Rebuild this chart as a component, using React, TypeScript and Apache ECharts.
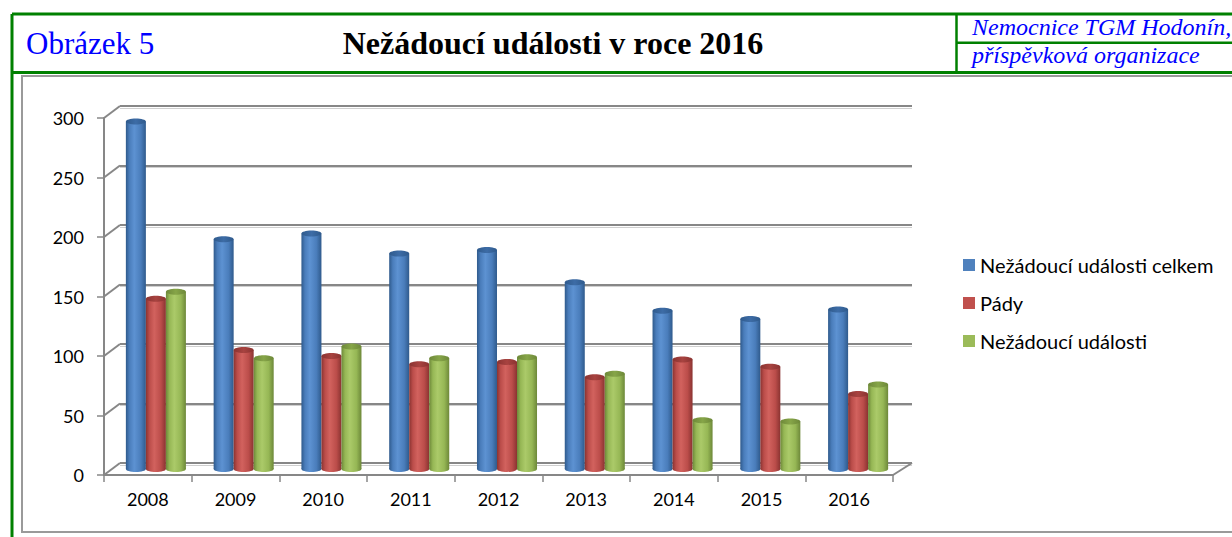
import React, { useEffect, useRef } from "react";
import * as echarts from "echarts";

const years = ["2008", "2009", "2010", "2011", "2012", "2013", "2014", "2015", "2016"];
const seriesNames = ["Nežádoucí události celkem", "Pády", "Nežádoucí události"];
const celkem = [292, 193, 198, 181, 184, 157, 133, 126, 134];
const pady = [143, 100, 95, 88, 90, 77, 92, 86, 63];
const udalosti = [149, 93, 103, 93, 94, 80, 41, 40, 71];
const yTicks = [0, 50, 100, 150, 200, 250, 300];

const headerLeft = "Obrázek 5";
const headerTitle = "Nežádoucí události v roce 2016";
const headerRight1 = "Nemocnice TGM Hodonín,";
const headerRight2 = "příspěvková organizace";

const W = 1232;
const H = 537;
const FRONT = { left: 104, top: 118, width: 789, height: 357 };
const BACK = { left: 120, top: 106, width: 792, height: 357 };
const BARS = { left: 112, top: 112, width: 790, height: 357 };
const FONT = "Lato, 'Open Sans', sans-serif";
const GRID_GRAY = "#878787";

const palettes = [
  { base: "#4F81BD", dark: "#2f5a8c", mid: "#4a7dbb", light: "#5d92d2", top: "#3d6ca6" },
  { base: "#C0504D", dark: "#8a3331", mid: "#bb4d4a", light: "#d2625e", top: "#a84340" },
  { base: "#9BBB59", dark: "#6d8839", mid: "#96b755", light: "#abca69", top: "#86a548" },
];

function cylinderSeries(name: string, data: number[], idx: number) {
  const p = palettes[idx];
  const bodyFill = new echarts.graphic.LinearGradient(0, 0, 1, 0, [
    { offset: 0, color: p.dark },
    { offset: 0.18, color: p.mid },
    { offset: 0.42, color: p.light },
    { offset: 0.75, color: p.mid },
    { offset: 1, color: p.dark },
  ]);
  const topFill = new echarts.graphic.LinearGradient(0, 0, 1, 0, [
    { offset: 0, color: p.dark },
    { offset: 0.5, color: p.top },
    { offset: 1, color: p.dark },
  ]);
  return {
    type: "custom",
    name,
    xAxisIndex: 3,
    yAxisIndex: 3,
    clip: false,
    itemStyle: { color: p.base },
    data: data.map((v, i) => [i, v]),
    encode: { x: 0, y: 1 },
    renderItem: (params: any, api: any) => {
      const i = api.value(0);
      const v = api.value(1);
      const top = api.coord([i, v]);
      const base = api.coord([i, 0]);
      const band = api.size([1, 0])[0];
      const bw = band * 0.228;
      const cx = top[0] + (idx - 1) * bw;
      const rx = bw / 2;
      const ry = 3;
      return {
        type: "group",
        children: [
          { type: "ellipse", shape: { cx, cy: base[1], rx, ry }, style: { fill: bodyFill } },
          {
            type: "rect",
            shape: { x: cx - rx, y: top[1], width: bw, height: base[1] - top[1] },
            style: { fill: bodyFill },
          },
          { type: "ellipse", shape: { cx, cy: top[1], rx, ry }, style: { fill: topFill } },
        ],
      };
    },
  };
}

export default function App() {
  const ref = useRef<HTMLDivElement>(null);
  useEffect(() => {
    if (!ref.current) return;
    const chart = echarts.init(ref.current, undefined, { renderer: "svg", width: W, height: H });
    const hiddenAxisX = (gi: number) => ({
      type: "category",
      gridIndex: gi,
      data: years,
      show: false,
    });
    const option: any = {
      animation: false,
      backgroundColor: "#ffffff",
      textStyle: { fontFamily: FONT },
      grid: [
        { ...BACK, containLabel: false },
        { ...BACK, top: BACK.top + 2, containLabel: false },
        { ...FRONT, containLabel: false },
        { ...BARS, containLabel: false },
      ],
      xAxis: [
        hiddenAxisX(0),
        hiddenAxisX(1),
        {
          type: "category",
          gridIndex: 2,
          data: years,
          boundaryGap: true,
          axisLine: { show: true, lineStyle: { color: GRID_GRAY, width: 2 } },
          axisTick: { show: true, alignWithLabel: false, length: 7, lineStyle: { color: GRID_GRAY, width: 1.5 } },
          axisLabel: { color: "#000", fontSize: 18, fontFamily: FONT, margin: 15 },
          splitLine: { show: false },
        },
        hiddenAxisX(3),
      ],
      yAxis: [
        {
          type: "value",
          gridIndex: 0,
          min: 0,
          max: 300,
          interval: 50,
          axisLine: { show: false },
          axisTick: { show: false },
          axisLabel: { show: false },
          splitLine: { show: true, lineStyle: { color: GRID_GRAY, width: 2 } },
        },
        {
          type: "value",
          gridIndex: 1,
          min: 0,
          max: 300,
          interval: 50,
          axisLine: { show: false },
          axisTick: { show: false },
          axisLabel: { show: false },
          splitLine: { show: true, lineStyle: { color: "#cfcfcf", width: 1 } },
        },
        {
          type: "value",
          gridIndex: 2,
          min: 0,
          max: 300,
          interval: 50,
          axisLine: { show: true, lineStyle: { color: GRID_GRAY, width: 2 } },
          axisTick: { show: true, length: 7, lineStyle: { color: GRID_GRAY, width: 1.5 } },
          axisLabel: { color: "#000", fontSize: 18, fontFamily: FONT, margin: 20 },
          splitLine: { show: false },
        },
        { type: "value", gridIndex: 3, min: 0, max: 300, interval: 50, show: false, splitLine: { show: false } },
      ],
      legend: {
        orient: "vertical",
        left: 963,
        top: 255,
        itemWidth: 12,
        itemHeight: 12,
        itemGap: 18,
        padding: 0,
        icon: "rect",
        data: seriesNames,
        textStyle: { color: "#000", fontSize: 20, fontFamily: FONT, lineHeight: 20 },
      },
      series: [
        cylinderSeries(seriesNames[0], celkem, 0),
        cylinderSeries(seriesNames[1], pady, 1),
        cylinderSeries(seriesNames[2], udalosti, 2),
      ],
    };
    chart.setOption(option);

    // 3D depth lines: connect front axis ticks to back wall gridlines
    const diag: any[] = [];
    yTicks.forEach((t) => {
      const yf = chart.convertToPixel({ yAxisIndex: 2 }, t) as number;
      const yb = chart.convertToPixel({ yAxisIndex: 0 }, t) as number;
      diag.push({
        type: "line",
        shape: { x1: FRONT.left, y1: yf, x2: BACK.left, y2: yb },
        style: { stroke: GRID_GRAY, lineWidth: 2 },
        z: 1,
      });
    });
    const yf0 = chart.convertToPixel({ yAxisIndex: 2 }, 0) as number;
    const yb0 = chart.convertToPixel({ yAxisIndex: 0 }, 0) as number;
    diag.push({
      type: "line",
      shape: { x1: FRONT.left + FRONT.width, y1: yf0, x2: BACK.left + BACK.width, y2: yb0 },
      style: { stroke: GRID_GRAY, lineWidth: 2 },
      z: 1,
    });

    const green = "#008000";
    const blue = "#0000FF";
    const header: any[] = [
      // gray inner frame
      { type: "rect", shape: { x: 22, y: 76, width: 1240, height: 456 }, style: { fill: "none", stroke: "#9a9a9a", lineWidth: 2 }, z: 0 },
      // green frame lines
      { type: "line", shape: { x1: 12, y1: 14, x2: W, y2: 14 }, style: { stroke: green, lineWidth: 3 } },
      { type: "line", shape: { x1: 12, y1: 14, x2: 12, y2: H }, style: { stroke: green, lineWidth: 3 } },
      { type: "line", shape: { x1: 12, y1: 72.5, x2: W, y2: 72.5 }, style: { stroke: green, lineWidth: 3 } },
      { type: "line", shape: { x1: 956.5, y1: 14, x2: 956.5, y2: 72.5 }, style: { stroke: green, lineWidth: 2.5 } },
      { type: "line", shape: { x1: 956.5, y1: 42.7, x2: W, y2: 42.7 }, style: { stroke: green, lineWidth: 2.5 } },
      {
        type: "text",
        x: 26,
        y: 43,
        style: { text: headerLeft, fill: blue, font: "31px 'Liberation Serif', serif", verticalAlign: "middle", align: "left" },
      },
      {
        type: "text",
        x: 553,
        y: 43,
        style: { text: headerTitle, fill: "#000", font: "bold 32px 'Liberation Serif', serif", verticalAlign: "middle", align: "center" },
      },
      {
        type: "text",
        x: 972,
        y: 27,
        style: { text: headerRight1, fill: blue, font: "italic 24px 'Liberation Serif', serif", verticalAlign: "middle", align: "left" },
      },
      {
        type: "text",
        x: 972,
        y: 55,
        style: { text: headerRight2, fill: blue, font: "italic 24px 'Liberation Serif', serif", verticalAlign: "middle", align: "left" },
      },
    ];
    chart.setOption({ graphic: [...header, ...diag] });

    return () => chart.dispose();
  }, []);
  return (
    <div
      ref={ref}
      style={{ position: "absolute", left: 0, top: 0, width: W, height: H, background: "#fff" }}
    />
  );
}
